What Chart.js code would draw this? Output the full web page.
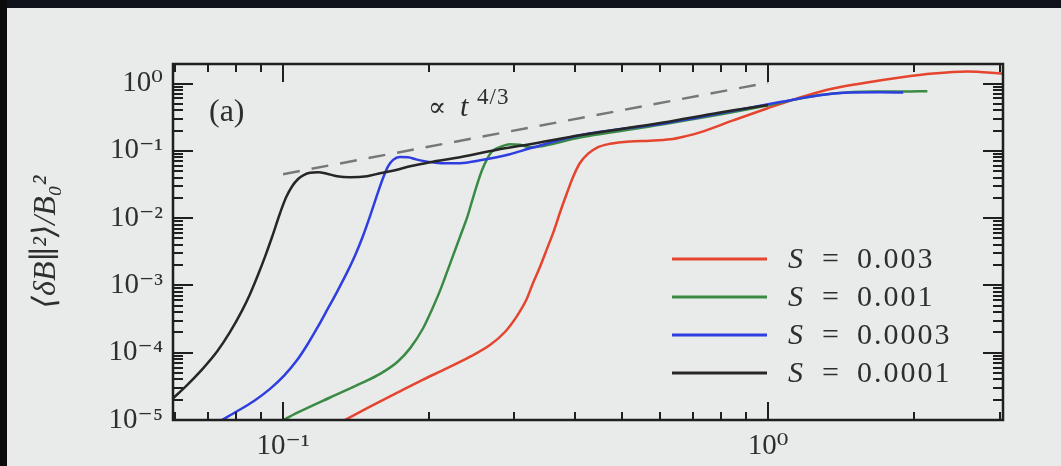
<!DOCTYPE html>
<html>
<head>
<meta charset="utf-8">
<script src="https://cdn.jsdelivr.net/npm/chart.js@4.4.1/dist/chart.umd.min.js"></script>
<style>
  body { margin: 0; background: #e8ebe9; }
  #wrap { position: relative; width: 1061px; height: 466px; overflow: hidden; }
  #topband { position: absolute; left: 0; top: 0; width: 1061px; height: 8px; background: #10141a; }
  #leftband { position: absolute; left: 0; top: 0; width: 7px; height: 466px; background: #0b0b0b; }
</style>
</head>
<body>
<div id="wrap">
  <canvas id="myChart" width="1061" height="466"></canvas>
  <div id="topband"></div>
  <div id="leftband"></div>
</div>
<script>
// values (t on x, <dB^2>/B0^2 on y)
const seriesLabels = ["0.003", "0.001", "0.0003", "0.0001"];
const seriesColors = ["#e5442f", "#3a8a45", "#2e3ee0", "#262626"];

const tRed = [0.134, 0.1511, 0.172, 0.1935, 0.218, 0.243, 0.267, 0.287, 0.303, 0.317, 0.327, 0.339, 0.35, 0.362, 0.372, 0.385, 0.396, 0.409, 0.4255, 0.444, 0.472, 0.519, 0.571, 0.628, 0.674, 0.724, 0.847, 0.995, 1.164, 1.361, 1.6, 1.871, 2.189, 2.572, 3.05];
const vRed = [1e-5, 1.58e-5, 2.55e-5, 3.92e-5, 5.89e-5, 8.73e-5, 1.3e-4, 2.05e-4, 3.44e-4, 6.0e-4, 1.05e-3, 1.92e-3, 3.49e-3, 6.59e-3, 0.0119, 0.0238, 0.0405, 0.0653, 0.0906, 0.112, 0.127, 0.138, 0.141, 0.148, 0.164, 0.188, 0.283, 0.426, 0.62, 0.843, 1.035, 1.227, 1.406, 1.506, 1.406];

const tGreen = [0.1, 0.1084, 0.125, 0.1462, 0.1585, 0.172, 0.1827, 0.1944, 0.2028, 0.211, 0.2179, 0.224, 0.2317, 0.24, 0.2453, 0.251, 0.2572, 0.264, 0.27, 0.28, 0.2935, 0.308, 0.3229, 0.409, 0.608, 0.796, 0.995, 1.164, 1.361, 1.65, 1.9, 2.13];
const vGreen = [1e-5, 1.34e-5, 2.16e-5, 3.63e-5, 4.85e-5, 7.28e-5, 1.16e-4, 2.31e-4, 4.4e-4, 8.58e-4, 1.6e-3, 2.75e-3, 5.31e-3, 0.0106, 0.018, 0.031, 0.0518, 0.078, 0.099, 0.1135, 0.125, 0.123, 0.113, 0.158, 0.247, 0.347, 0.472, 0.6, 0.711, 0.76, 0.76, 0.77];

const tBlue = [0.0748, 0.0804, 0.0871, 0.094, 0.1005, 0.1069, 0.1121, 0.1175, 0.1232, 0.1292, 0.1355, 0.1408, 0.1462, 0.1511, 0.1562, 0.1608, 0.1646, 0.1686, 0.174, 0.181, 0.188, 0.197, 0.211, 0.2316, 0.2547, 0.2935, 0.3229, 0.409, 0.608, 0.796, 0.995, 1.074, 1.266, 1.479, 1.702, 1.9];
const vBlue = [1e-5, 1.35e-5, 1.92e-5, 2.9e-5, 4.56e-5, 7.76e-5, 1.3e-4, 2.31e-4, 4.28e-4, 8.03e-4, 1.56e-3, 2.81e-3, 5.48e-3, 0.0107, 0.0219, 0.0397, 0.0588, 0.0733, 0.0807, 0.08, 0.0746, 0.0697, 0.0654, 0.0654, 0.0723, 0.089, 0.109, 0.17, 0.255, 0.36, 0.49, 0.54, 0.664, 0.736, 0.74, 0.736];

const tBlack = [0.0593, 0.0634, 0.0684, 0.0731, 0.0777, 0.0823, 0.0855, 0.0888, 0.0918, 0.0949, 0.0986, 0.1014, 0.1044, 0.1074, 0.1105, 0.1137, 0.1181, 0.1232, 0.1292, 0.1374, 0.149, 0.1585, 0.1702, 0.1827, 0.201, 0.2316, 0.2762, 0.3229, 0.409, 0.608, 0.796, 1.0];
const vBlack = [2.1e-5, 3.3e-5, 5.85e-5, 1.04e-4, 2.02e-4, 4.22e-4, 7.48e-4, 1.44e-3, 2.68e-3, 5.24e-3, 0.0119, 0.0202, 0.0298, 0.0381, 0.044, 0.0472, 0.048, 0.0456, 0.0419, 0.0405, 0.042, 0.0464, 0.0515, 0.0589, 0.0676, 0.0801, 0.104, 0.125, 0.17, 0.264, 0.372, 0.48];

// t^(4/3) guide line
const tDash = [0.1, 1.0];
const vDash = [0.045, 1.03];

const xTickValues = [0.1, 1];
const xTickLabels = ["10⁻¹", "10⁰"];
const yTickValues = [1e-5, 1e-4, 1e-3, 1e-2, 1e-1, 1];
const yTickLabels = ["10⁻⁵", "10⁻⁴", "10⁻³", "10⁻²", "10⁻¹", "10⁰"];

const serif = '"Liberation Serif", "DejaVu Serif", serif';
const toPoints = (ts, vs) => ts.map((t, i) => ({ x: t, y: vs[i] }));

// inward ticks on all four sides + frame
const boxTicks = {
  id: "boxTicks",
  afterDatasetsDraw(chart) {
    const { ctx, chartArea, scales } = chart;
    const { left, right, top, bottom } = chartArea;
    const x = scales.x, y = scales.y;
    ctx.save();
    ctx.strokeStyle = "#1f1f1f";
    ctx.lineWidth = 2;
    ctx.beginPath();
    for (let d = -2; d <= 1; d++) {
      for (let k = 1; k < 10; k++) {
        const v = k * Math.pow(10, d);
        if (v < x.min || v > x.max) continue;
        const px = Math.round(x.getPixelForValue(v));
        const L = k === 1 ? 18 : 8;
        ctx.moveTo(px, bottom); ctx.lineTo(px, bottom - L);
        ctx.moveTo(px, top); ctx.lineTo(px, top + L);
      }
    }
    for (let d = -5; d <= 0; d++) {
      for (let k = 1; k < 10; k++) {
        const v = k * Math.pow(10, d);
        if (v < y.min || v > y.max) continue;
        const py = Math.round(y.getPixelForValue(v));
        const L = k === 1 ? 20 : 10;
        ctx.moveTo(left, py); ctx.lineTo(left + L, py);
        ctx.moveTo(right, py); ctx.lineTo(right - L, py);
      }
    }
    ctx.stroke();
    ctx.lineWidth = 2.5;
    ctx.strokeRect(left, top, right - left, bottom - top);
    ctx.restore();
  },
};

// legend and text labels inside the axes
const insideText = {
  id: "insideText",
  afterDraw(chart) {
    const { ctx, chartArea } = chart;
    const { left, top } = chartArea;
    ctx.save();
    ctx.fillStyle = "#2e2e2e";
    ctx.textBaseline = "alphabetic";
    ctx.font = "32px " + serif;
    ctx.fillText("(a)", left + 36, top + 57);
    ctx.font = '27px "DejaVu Serif", serif';
    ctx.fillText("∝", left + 255, top + 52);
    ctx.font = "italic 30px " + serif;
    ctx.fillText("t", left + 287, top + 52);
    ctx.font = "23px " + serif;
    ctx.letterSpacing = "1px";
    ctx.fillText("4/3", left + 304, top + 40);
    ctx.letterSpacing = "0px";

    // legend
    const rows = [259, 297, 335, 373];
    seriesLabels.forEach((lab, i) => {
      const yy = rows[i];
      ctx.strokeStyle = seriesColors[i];
      ctx.lineWidth = 3;
      ctx.beginPath();
      ctx.moveTo(672, yy);
      ctx.lineTo(767, yy);
      ctx.stroke();
      ctx.fillStyle = "#2e2e2e";
      ctx.textBaseline = "middle";
      ctx.font = "italic 30px " + serif;
      ctx.fillText("S", 788, yy + 1);
      ctx.font = "30px " + serif;
      ctx.fillText("=", 822, yy + 1);
      ctx.letterSpacing = "2px";
      ctx.fillText(lab, 857, yy + 1);
      ctx.letterSpacing = "0px";
    });
    ctx.restore();
  },
};

const curves = [
  { t: tRed, v: vRed, order: 3 },
  { t: tGreen, v: vGreen, order: 2 },
  { t: tBlue, v: vBlue, order: 1 },
  { t: tBlack, v: vBlack, order: 0 },
];

const datasets = curves.map((c, i) => ({
  label: "S = " + seriesLabels[i],
  data: toPoints(c.t, c.v),
  borderColor: seriesColors[i],
  borderWidth: 2.5,
  pointRadius: 0,
  cubicInterpolationMode: "monotone",
  order: c.order,
}));
datasets.push({
  label: "t^4/3",
  data: toPoints(tDash, vDash),
  borderColor: "#777",
  borderWidth: 2.5,
  borderDash: [17, 12],
  pointRadius: 0,
  order: 4,
});

new Chart(document.getElementById("myChart"), {
  type: "line",
  data: { datasets },
  options: {
    responsive: false,
    animation: false,
    layout: { padding: { top: 64, right: 58, left: 0, bottom: 0 } },
    plugins: { legend: { display: false }, tooltip: { enabled: false } },
    scales: {
      x: {
        type: "logarithmic",
        min: 0.0593,
        max: 3.05,
        grid: { display: false, drawTicks: false },
        border: { display: false },
        afterBuildTicks: (s) => { s.ticks = xTickValues.map((v) => ({ value: v })); },
        afterFit: (s) => { s.height = 46; },
        ticks: {
          autoSkip: false,
          maxRotation: 0,
          padding: 9,
          color: "#2e2e2e",
          font: { family: serif, size: 29 },
          callback: (v) => xTickLabels[xTickValues.indexOf(v)],
        },
      },
      y: {
        type: "logarithmic",
        min: 1e-5,
        max: 1.95,
        grid: { display: false, drawTicks: false },
        border: { display: false },
        afterBuildTicks: (s) => { s.ticks = yTickValues.map((v) => ({ value: v })); },
        afterFit: (s) => { s.width = 173; },
        ticks: {
          autoSkip: false,
          padding: 10,
          color: "#2e2e2e",
          font: { family: serif, size: 29 },
          callback: (v) => yTickLabels[yTickValues.indexOf(v)],
        },
        title: {
          display: true,
          text: "⟨δB∥²⟩/B₀²",
          color: "#2e2e2e",
          font: { family: serif, size: 32, style: "italic" },
          padding: { top: 27, bottom: 0 },
        },
      },
    },
  },
  plugins: [boxTicks, insideText],
});
</script>
</body>
</html>
